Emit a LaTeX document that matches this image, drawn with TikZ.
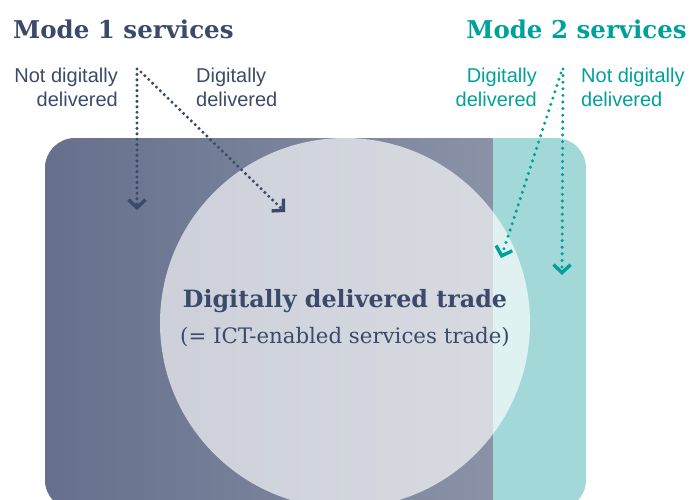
\documentclass[tikz,border=0pt]{standalone}
\usepackage{fontspec}
\setmainfont{DejaVu Serif}
\newfontfamily\labelfont{Liberation Sans}
\usetikzlibrary{arrows.meta}
\definecolor{navy}{HTML}{3B4A6B}
\definecolor{tealtxt}{HTML}{00A19A}
\definecolor{tealfill}{HTML}{A3D8D8}
\definecolor{gradL}{HTML}{66708C}
\definecolor{gradR}{HTML}{8A92A7}
\tikzset{
  title/.style={inner sep=0pt, font=\fontsize{24.5}{28}\selectfont\bfseries},
  lbl/.style={inner sep=0pt, font=\labelfont\fontsize{20}{24}\selectfont, align=#1},
  dotline/.style={draw=#1, line width=3.4pt, line cap=round,
    -{Straight Barb[length=8pt,width=17pt,line width=3.4pt]}},
  navydots/.style={dotline=navy, dash pattern=on 0pt off 5.4pt},
  tealdots/.style={dotline=tealtxt, dash pattern=on 0pt off 6.6pt},
}
\begin{document}
\begin{tikzpicture}[x=1pt,y=-1pt]
\useasboundingbox (0,0) rectangle (689,499);
% background box
\begin{scope}
  \clip[rounded corners=30pt] (45,138) rectangle (586,510);
  \shade[left color=gradL, right color=gradR] (45,138) rectangle (493,510);
  \fill[tealfill] (493,138) rectangle (586,510);
  \fill[white, fill opacity=0.66] (345,323) circle[radius=185];
\end{scope}
% titles
\node[title, text=navy, anchor=base west] (m1) at (13,38) {Mode 1 services};
\node[title, text=tealtxt, anchor=base east] (m2) at (687,38) {Mode 2 services};
% labels (anchored at the baseline of the second line)
\node[lbl=right, text=navy, anchor=base east] (m1n) at (118,106) {Not digitally\\delivered};
\node[lbl=left, text=navy, anchor=base west] (m1d) at (196,106) {Digitally\\delivered};
\node[lbl=right, text=tealtxt, anchor=base east] (m2d) at (537,106) {Digitally\\delivered};
\node[lbl=left, text=tealtxt, anchor=base west] (m2n) at (581,106) {Not digitally\\delivered};
% centre text
\node[inner sep=0pt, text=navy, font=\fontsize{23.8}{28}\selectfont\bfseries, anchor=base] (dt) at (345,307) {Digitally delivered trade};
\node[inner sep=0pt, text=navy, font=\fontsize{21.3}{25}\selectfont, anchor=base] (ict) at (345,343) {(= ICT-enabled services trade)};
% arrows
\coordinate (s1) at (137,69);
\coordinate (s1b) at (141,72);
\coordinate (e1a) at (137,210);
\coordinate (e1b) at (285,212);
\coordinate (s2) at (563,69);
\coordinate (s2b) at (561,73);
\coordinate (e2a) at (562,275);
\coordinate (e2b) at (501,258);
\draw[navydots] (s1) -- (e1a);
\draw[navydots] (s1b) -- (e1b);
\draw[tealdots] (s2) -- (e2a);
\draw[tealdots] (s2b) -- (e2b);
\end{tikzpicture}
\end{document}
